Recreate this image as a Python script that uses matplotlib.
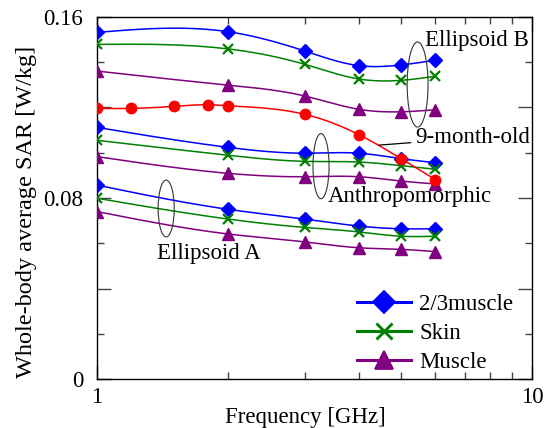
import numpy as np
import matplotlib
matplotlib.use("Agg")
import matplotlib.pyplot as plt
from matplotlib.patches import Ellipse
from matplotlib.ticker import FixedLocator, NullFormatter, FixedFormatter

plt.rcParams['font.family'] = ['Liberation Serif', 'DejaVu Serif']
plt.rcParams['mathtext.fontset'] = 'stix'

# ---------------- data ----------------
freq = [1, 2, 3, 4, 5, 6]
freq_infant = [1, 1.2, 1.5, 1.8, 2, 3, 4, 5, 6]

ellA_23muscle = [0.0857, 0.0750, 0.0707, 0.0676, 0.0664, 0.0664]
ellA_skin     = [0.0799, 0.0707, 0.0670, 0.0650, 0.0631, 0.0631]
ellA_muscle   = [0.0740, 0.0641, 0.0606, 0.0580, 0.0573, 0.0563]

anth_23muscle = [0.1112, 0.1024, 0.0998, 0.0998, 0.0974, 0.0956]
anth_skin     = [0.1055, 0.0989, 0.0962, 0.0959, 0.0943, 0.0927]
anth_muscle   = [0.0983, 0.0909, 0.0894, 0.0894, 0.0875, 0.0862]

ellB_23muscle = [0.1532, 0.1535, 0.1450, 0.1385, 0.1388, 0.1409]
ellB_skin     = [0.1479, 0.1459, 0.1391, 0.1326, 0.1320, 0.1338]
ellB_muscle   = [0.1361, 0.1299, 0.1251, 0.1192, 0.1181, 0.1190]

infant_9month = [0.1196, 0.1196, 0.1205, 0.1212, 0.1208, 0.1170, 0.1080, 0.0974, 0.0881]

legend_labels = ['2/3muscle', 'Skin', 'Muscle']
y_tick_values = [0, 0.04, 0.08, 0.12, 0.16]
y_tick_labels = ['0', '', '0.08', '', '0.16']
x_tick_values = [1, 10]
x_tick_labels = ['1', '10']

BLUE, GREEN, PURPLE, RED = '#0000ff', '#008000', '#800080', '#ff0000'
FS = 16.5


def smooth(x, y, n=200):
    """Natural cubic spline through the points (in log-frequency) for drawing the curve."""
    x = np.log10(np.asarray(x, float))
    y = np.asarray(y, float)
    k = len(x)
    h = np.diff(x)
    A = np.zeros((k, k))
    b = np.zeros(k)
    A[0, 0] = A[-1, -1] = 1
    for i in range(1, k - 1):
        A[i, i - 1] = h[i - 1]
        A[i, i] = 2 * (h[i - 1] + h[i])
        A[i, i + 1] = h[i]
        b[i] = 6 * ((y[i + 1] - y[i]) / h[i] - (y[i] - y[i - 1]) / h[i - 1])
    M = np.linalg.solve(A, b)
    xs = np.linspace(x[0], x[-1], n)
    idx = np.clip(np.searchsorted(x, xs) - 1, 0, k - 2)
    x0, x1 = x[idx], x[idx + 1]
    hh = x1 - x0
    ys = (M[idx] * (x1 - xs) ** 3 / (6 * hh) + M[idx + 1] * (xs - x0) ** 3 / (6 * hh)
          + (y[idx] / hh - M[idx] * hh / 6) * (x1 - xs)
          + (y[idx + 1] / hh - M[idx + 1] * hh / 6) * (xs - x0))
    return 10 ** xs, ys


fig = plt.figure(figsize=(5.46, 4.28), dpi=100)
ax = fig.add_axes([97 / 546, 1 - 379 / 428, 435 / 546, 362 / 428])

styles = {
    '23': dict(color=BLUE, marker='D', ms=7.5, mew=1.0),
    'sk': dict(color=GREEN, marker='x', ms=7.5, mew=1.6),
    'mu': dict(color=PURPLE, marker='^', ms=8.5, mew=1.0),
}

handles = {}
for series in [(ellB_23muscle, '23'), (ellB_skin, 'sk'), (ellB_muscle, 'mu'),
               (anth_23muscle, '23'), (anth_skin, 'sk'), (anth_muscle, 'mu'),
               (ellA_23muscle, '23'), (ellA_skin, 'sk'), (ellA_muscle, 'mu')]:
    vals, key = series
    st = styles[key]
    xs, ys = smooth(freq, vals)
    ax.plot(xs, ys, '-', color=st['color'], lw=1.1, zorder=2)
    ax.plot(freq, vals, linestyle='none', marker=st['marker'], ms=st['ms'],
            mew=st['mew'], color=st['color'], zorder=3)
    if key not in handles:
        handles[key] = plt.Line2D([], [], color=st['color'], lw=2.2, marker=st['marker'],
                                  ms=st['ms'] * 1.5, mew=st['mew'] * 1.3)

xs, ys = smooth(freq_infant, infant_9month)
ax.plot(xs, ys, '-', color=RED, lw=1.1, zorder=2)
ax.plot(freq_infant, infant_9month, linestyle='none', marker='o', ms=7.5, color=RED, zorder=3)

ax.set_xscale('log')
ax.set_xlim(1, 10)
ax.set_ylim(0, 0.16)
ax.xaxis.set_major_locator(FixedLocator(x_tick_values))
ax.xaxis.set_major_formatter(FixedFormatter(x_tick_labels))
ax.xaxis.set_minor_locator(FixedLocator([2, 3, 4, 5, 6, 7, 8, 9]))
ax.xaxis.set_minor_formatter(NullFormatter())
ax.yaxis.set_major_locator(FixedLocator(y_tick_values))
ax.yaxis.set_major_formatter(FixedFormatter(y_tick_labels))
ax.yaxis.set_minor_locator(FixedLocator(np.arange(0, 0.161, 0.02)))

ax.tick_params(which='both', direction='in', top=True, right=True, colors='#444444',
               labelcolor='black', labelsize=FS, width=1.0)
ax.tick_params(axis='y', which='major', length=10, pad=10)
ax.tick_params(axis='y', which='minor', length=5)
ax.tick_params(axis='x', which='major', length=10, pad=6)
ax.tick_params(axis='x', which='minor', length=5)
for s in ax.spines.values():
    s.set_linewidth(1.0)
    s.set_color('black')

ax.set_xlabel('Frequency [GHz]', fontsize=FS)
ax.xaxis.set_label_coords(0.48, -0.077)
ax.set_ylabel('Whole-body average SAR [W/kg]', fontsize=17.5)
ax.yaxis.set_label_coords(-0.138, 0.461)

# group annotations
for (cx, cy, w, h) in [(0.737, 0.8135, 0.048, 0.235), (0.515, 0.588, 0.037, 0.18),
                       (0.159, 0.471, 0.037, 0.157)]:
    ax.add_patch(Ellipse((cx, cy), w, h, transform=ax.transAxes, fill=False,
                         edgecolor='#333333', lw=0.8, zorder=4))

ax.text(0.754, 0.934, 'Ellipsoid B', transform=ax.transAxes, fontsize=FS, ha='left', va='center')
ax.text(0.531, 0.503, 'Anthropomorphic', transform=ax.transAxes, fontsize=FS, ha='left', va='center')
ax.text(0.138, 0.348, 'Ellipsoid A', transform=ax.transAxes, fontsize=FS, ha='left', va='center')
ax.annotate('9-month-old', xy=(0.648, 0.646), xycoords='axes fraction',
            xytext=(0.731, 0.666), textcoords='axes fraction', fontsize=FS,
            ha='left', va='center',
            arrowprops=dict(arrowstyle='-', color='black', lw=0.9, shrinkA=1, shrinkB=0))

ax.legend([handles['23'], handles['sk'], handles['mu']], legend_labels,
          loc='upper left', bbox_to_anchor=(0.598, 0.236), frameon=False,
          fontsize=FS, handlelength=2.35, handletextpad=0.35, labelspacing=0.35,
          borderpad=0, borderaxespad=0)

fig.savefig('out.png', dpi=100)
